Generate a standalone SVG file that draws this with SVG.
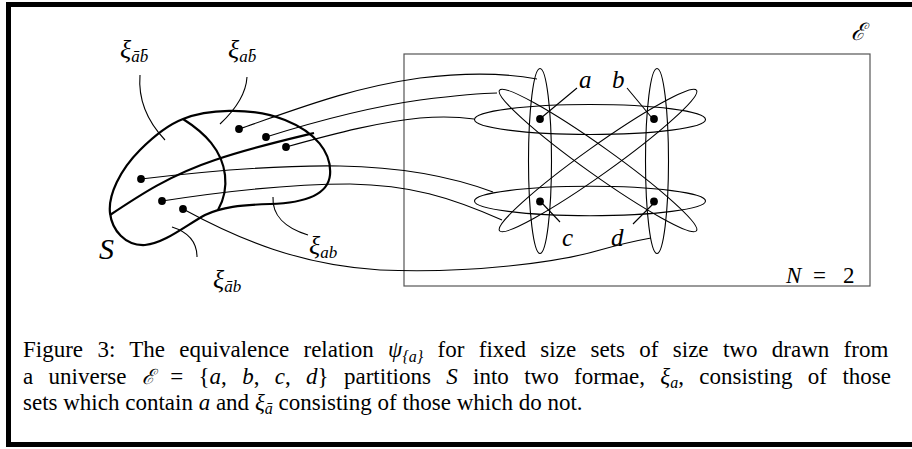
<svg xmlns="http://www.w3.org/2000/svg" width="912" height="449" viewBox="0 0 912 449">
<style>
.thin{fill:none;stroke:#000;stroke-width:1.1}
.thick{fill:none;stroke:#000;stroke-width:2.2}
.dot{fill:#000}
.m{font-family:"Liberation Serif","DejaVu Serif",serif;font-style:italic;fill:#000}
.r{font-family:"Liberation Serif","DejaVu Serif",serif;fill:#000}
.cap{font-family:"Liberation Serif",serif;font-size:23px;fill:#000}
.it{font-style:italic}
.sub{font-size:16px;font-style:italic}
</style>
<rect x="8.5" y="4.5" width="920" height="440" fill="none" stroke="#000" stroke-width="5"/>
<g id="universe">
<rect x="404" y="54" width="466" height="232" fill="none" stroke="#555" stroke-width="1.2"/>
<text class="m" x="851" y="40" font-size="24" font-family="DejaVu Serif">ℰ</text>
<text class="m" x="786" y="283" font-size="23">N</text>
<text class="r" x="813" y="283" font-size="23">=</text>
<text class="r" x="843" y="283" font-size="23">2</text>
</g>
<g id="sets">
<ellipse class="thin" cx="540" cy="161" rx="11.5" ry="92.5"/>
<ellipse class="thin" cx="657" cy="161" rx="11.5" ry="92.5"/>
<ellipse class="thin" cx="590" cy="119.5" rx="115.5" ry="15"/>
<ellipse class="thin" cx="590" cy="201" rx="115.5" ry="14.7"/>
<ellipse class="thin" cx="598" cy="160.5" rx="121" ry="14" transform="rotate(35.5 598 160.5)"/>
<ellipse class="thin" cx="598" cy="160.5" rx="121" ry="14" transform="rotate(-35.5 598 160.5)"/>
</g>
<g id="elements">
<circle class="dot" cx="540" cy="119" r="3.9"/>
<circle class="dot" cx="654" cy="119" r="3.9"/>
<circle class="dot" cx="540" cy="201.5" r="3.9"/>
<circle class="dot" cx="654" cy="201.5" r="3.9"/>
<path class="thin" d="M541,118 L577,88 M627,88 L652,118 M541,202 L560,222 M633,224 L654,203"/>
<text class="m" x="579" y="88" font-size="25">a</text>
<text class="m" x="612" y="88" font-size="25">b</text>
<text class="m" x="562" y="246" font-size="25">c</text>
<text class="m" x="611" y="246" font-size="25">d</text>
</g>
<g id="space">
<path class="thick" d="M183,119 C205,110 250,106 285,120 C315,132 332,152 330,175 C328,195 305,203 270,204 C240,205 222,207 205,215 C185,226 165,243 145,245 C125,246 112,230 110,213 C108,195 120,170 140,150 C155,135 170,124 183,119 Z"/>
<path class="thick" d="M183,119 C205,133 222,150 225,175 C227,192 222,203 218,210"/>
<path class="thick" d="M110,215 C140,195 170,175 215,160 C250,148 285,140 314,133"/>
<text class="m" x="99" y="259" font-size="30">S</text>
</g>
<g id="labels">
<text class="m" x="120" y="58" font-size="26">ξ<tspan font-size="17" dy="4">āb̄</tspan></text>
<text class="m" x="228" y="58" font-size="26">ξ<tspan font-size="17" dy="4">ab̄</tspan></text>
<text class="m" x="309" y="254" font-size="26">ξ<tspan font-size="17" dy="4">ab</tspan></text>
<text class="m" x="213" y="288" font-size="26">ξ<tspan font-size="17" dy="4">āb</tspan></text>
</g>
<g id="connectors">
<circle class="dot" cx="239" cy="129" r="3.9"/>
<circle class="dot" cx="266" cy="137" r="3.9"/>
<circle class="dot" cx="286" cy="147" r="3.9"/>
<circle class="dot" cx="141" cy="179" r="3.9"/>
<circle class="dot" cx="162" cy="201" r="3.9"/>
<circle class="dot" cx="183" cy="209" r="3.9"/>
<path class="thin" d="M239,129 C300,108 350,88 420,78 C470,72 510,74 537,79"/>
<path class="thin" d="M266,137 C320,120 370,107 420,100 C460,95 480,93 497,93"/>
<path class="thin" d="M286,147 C340,132 380,122 420,118 C445,116 460,117 474,119"/>
<path class="thin" d="M141,179 C200,172 280,165 340,166 C400,167 450,176 493,192"/>
<path class="thin" d="M162,201 C220,192 290,184 350,184 C410,185 450,197 502,220"/>
<path class="thin" d="M183,209 C240,240 300,265 380,270 C470,274 560,262 600,250 C625,243 640,240 651,238"/>
<path class="thin" d="M140,75 C138,100 148,122 165,140"/>
<path class="thin" d="M247,77 C246,95 235,110 220,124"/>
<path class="thin" d="M273,197 C272,215 285,228 308,235"/>
<path class="thin" d="M172,227 C188,232 197,242 197,257"/>
</g>
<g id="caption">
<text class="cap" x="23" y="357" word-spacing="8.6">Figure 3: The equivalence relation <tspan class="it">ψ</tspan><tspan class="sub" font-style="normal" dy="5">{</tspan><tspan class="sub">a</tspan><tspan class="sub" font-style="normal">}</tspan><tspan dy="-5"> for fixed size sets of size two drawn from</tspan></text>
<text class="cap" x="23" y="383.5" word-spacing="9.6">a universe <tspan font-family="DejaVu Serif" font-style="italic" font-size="21">ℰ</tspan> = {<tspan class="it">a</tspan>, <tspan class="it">b</tspan>, <tspan class="it">c</tspan>, <tspan class="it">d</tspan>} partitions <tspan class="it">S</tspan> into two formae, <tspan class="it">ξ</tspan><tspan class="sub" dy="4">a</tspan><tspan dy="-4">, consisting of those</tspan></text>
<text class="cap" x="23" y="410">sets which contain <tspan class="it">a</tspan> and <tspan class="it">ξ</tspan><tspan class="sub" dy="4">ā</tspan><tspan dy="-4"> consisting of those which do not.</tspan></text>
</g>
</svg>
